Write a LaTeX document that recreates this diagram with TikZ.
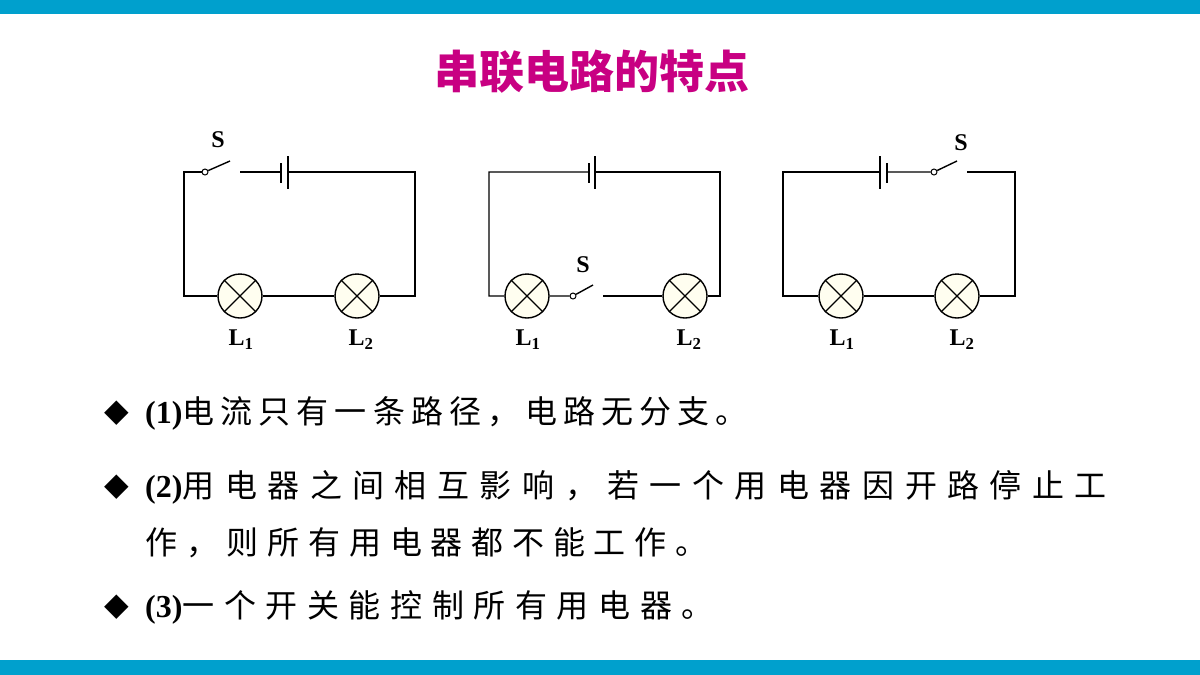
\documentclass[tikz,border=0pt]{standalone}
\usepackage{fontspec}
\setmainfont{Liberation Serif}
\newfontfamily\cjk{Noto Sans CJK SC}
\newfontfamily\sym{DejaVu Sans}
\newlength\mypitch
\def\myspc#1{\ifx#1\relax\else\makebox[\mypitch][l]{#1}\expandafter\myspc\fi}
\newcommand\spaced[2]{\setlength\mypitch{#1pt}{\cjk\myspc#2\relax}}
\begin{document}
\begin{tikzpicture}[x=1pt,y=-1pt,
  w/.style={line width=1.4pt},
  lamp/.style={circle,draw,line width=1.4pt,minimum size=44pt,inner sep=0pt,fill=yellow!6},
  lbl/.style={font=\bfseries\fontsize{24}{24}\selectfont},
  sw/.style={circle,draw,line width=1pt,minimum size=6pt,inner sep=0pt,fill=white},
  txt/.style={anchor=west,inner sep=0pt,font=\fontsize{32}{32}\selectfont}]
\useasboundingbox (0,0) rectangle (1200,675);
\fill[fill={rgb,255:red,0;green,160;blue,205}] (0,0) rectangle (1200,14);
\fill[fill={rgb,255:red,0;green,160;blue,205}] (0,660) rectangle (1200,675);
\node[font=\cjk\bfseries\fontsize{45}{45}\selectfont,text={rgb,255:red,200;green,0;blue,130}] (title) at (592,72) {串联电路的特点};
% ---- circuit 1
\coordinate (a1) at (184,172); \coordinate (a2) at (415,172);
\coordinate (a3) at (415,296); \coordinate (a4) at (184,296);
\node[lamp] (aL1) at (240,296) {}; \node[lamp] (aL2) at (357,296) {};
\node[sw] (aS) at (205,172) {}; \coordinate (aSe) at (230,161); \coordinate (aSr) at (240,172);
\coordinate (aB1) at (281,172); \coordinate (aB2) at (288,172);
\draw[w] (aS) -- (a1) -- (a4) -- (aL1) -- (aL2) -- (a3) -- (a2) -- (aB2);
\draw[w] (aS) -- (aSe); \draw[w] (aSr) -- (aB1);
\draw[w] (281,163) -- (281,183); \draw[w] (288,156) -- (288,189);
\node[lbl] (aSl) at (218,140) {S};
\node[lbl] (al1) at (241,340) {L\textsubscript{1}};
\node[lbl] (al2) at (361,340) {L\textsubscript{2}};
% ---- circuit 2
\coordinate (b1) at (489,172); \coordinate (b2) at (720,172);
\coordinate (b3) at (720,296); \coordinate (b4) at (489,296);
\node[lamp] (bL1) at (527,296) {}; \node[lamp] (bL2) at (685,296) {};
\node[sw] (bS) at (573,296) {}; \coordinate (bSe) at (593,285); \coordinate (bSr) at (603,296);
\coordinate (bB1) at (589,172); \coordinate (bB2) at (595,172);
\draw[w] (bB1) -- (b1) -- (b4) -- (bL1) -- (bS) -- (bSe);
\draw[w] (bSr) -- (bL2) -- (b3) -- (b2) -- (bB2);
\draw[w] (589,163) -- (589,183); \draw[w] (595,156) -- (595,189);
\node[lbl] (bSl) at (583,265) {S};
\node[lbl] (bl1) at (528,340) {L\textsubscript{1}};
\node[lbl] (bl2) at (689,340) {L\textsubscript{2}};
% ---- circuit 3
\coordinate (c1) at (783,172); \coordinate (c2) at (1015,172);
\coordinate (c3) at (1015,296); \coordinate (c4) at (783,296);
\node[lamp] (cL1) at (841,296) {}; \node[lamp] (cL2) at (957,296) {};
\node[sw] (cS) at (934,172) {}; \coordinate (cSe) at (957,161); \coordinate (cSr) at (967,172);
\coordinate (cB1) at (880,172); \coordinate (cB2) at (887,172);
\draw[w] (cB1) -- (c1) -- (c4) -- (cL1) -- (cL2) -- (c3) -- (c2) -- (cSr);
\draw[w] (cB2) -- (cS) -- (cSe);
\draw[w] (887,163) -- (887,183); \draw[w] (880,156) -- (880,189);
\node[lbl] (cSl) at (961,143) {S};
\node[lbl] (cl1) at (842,340) {L\textsubscript{1}};
\node[lbl] (cl2) at (962,340) {L\textsubscript{2}};
% lamp crosses
\foreach \l in {aL1,aL2,bL1,bL2,cL1,cL2}{
  \draw[line width=1.2pt] (\l.north west) -- (\l.south east) (\l.north east) -- (\l.south west);}
% text
\node[txt] (d1) at (104,413) {\sym◆};
\node[txt] (t1) at (145,413) {\textbf{(1)}\spaced{38.1}{电流只有一条路径，电路无分支。}};
\node[txt] (d2) at (104,487) {\sym◆};
\node[txt] (t2) at (145,487) {\textbf{(2)}\spaced{42.5}{用电器之间相互影响，若一个用电器因开路停止工}};
\node[txt] (t3) at (145,543) {\spaced{40.8}{作，则所有用电器都不能工作。}};
\node[txt] (d4) at (104,607) {\sym◆};
\node[txt] (t4) at (145,607) {\textbf{(3)}\spaced{41.6}{一个开关能控制所有用电器。}};
\end{tikzpicture}
\end{document}
